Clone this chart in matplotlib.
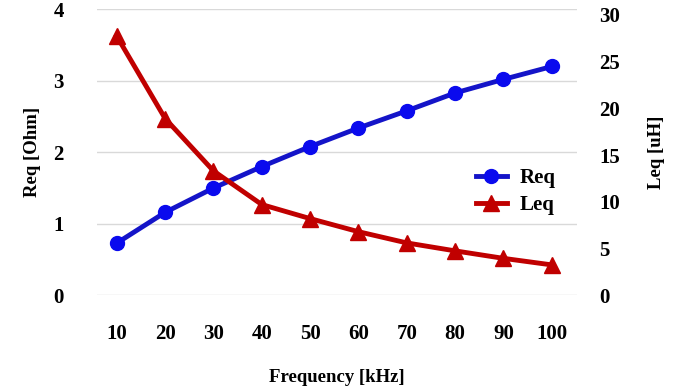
import matplotlib
matplotlib.use("Agg")
import matplotlib.pyplot as plt

plt.rcParams['font.family'] = ['Liberation Serif', 'DejaVu Serif']
plt.rcParams['font.weight'] = 'bold'

freq = [10, 20, 30, 40, 50, 60, 70, 80, 90, 100]
req = [0.73, 1.16, 1.50, 1.80, 2.08, 2.34, 2.58, 2.83, 3.02, 3.20]
leq = [27.7, 18.9, 13.3, 9.7, 8.2, 6.8, 5.6, 4.75, 3.95, 3.25]

blue = '#1414c8'
red = '#c00000'

fig = plt.figure(figsize=(6.81, 3.92), dpi=100)
ax = fig.add_axes([0.1424, 0.2467, 0.7048, 0.7296])
ax2 = ax.twinx()

x = list(range(len(freq)))
l1, = ax.plot(x, req, color=blue, lw=3.5, marker='o', ms=10,
              mfc='#0a0aee', mec='#0a0aee', label='Req', zorder=3)
l2, = ax2.plot(x, leq, color=red, lw=3.5, marker='^', ms=11,
               mfc=red, mec=red, label='Leq', zorder=3)

ax.set_xlim(-0.41, 9.52)
ax.set_ylim(0, 4)
ax2.set_ylim(0, 30.58)
ax.set_xticks(x)
ax.set_xticklabels([str(f) for f in freq])
ax.set_yticks([0, 1, 2, 3, 4])
ax2.set_yticks([0, 5, 10, 15, 20, 25, 30])

ax.grid(axis='y', color='#d9d9d9', lw=1)
ax.set_axisbelow(True)
for a in (ax, ax2):
    for s in a.spines.values():
        s.set_visible(False)
    a.tick_params(length=0, labelsize=15)
ax.tick_params(axis='y', pad=24)
ax.tick_params(axis='x', pad=21)
ax2.tick_params(axis='y', pad=16)

ax.set_xlabel('Frequency [kHz]', fontsize=13.5, fontweight='bold', labelpad=18)
ax.set_ylabel('Req [Ohm]', fontsize=13.5, fontweight='bold', labelpad=9)
ax2.set_ylabel('Leq [uH]', fontsize=13.5, fontweight='bold', rotation=90, labelpad=20)

ax2.legend(handles=[l1, l2], loc='upper left', bbox_to_anchor=(0.75, 0.51),
           frameon=False, fontsize=15, handlelength=1.5, handletextpad=0.6,
           labelspacing=0.35)

fig.savefig('out.png', dpi=100)
